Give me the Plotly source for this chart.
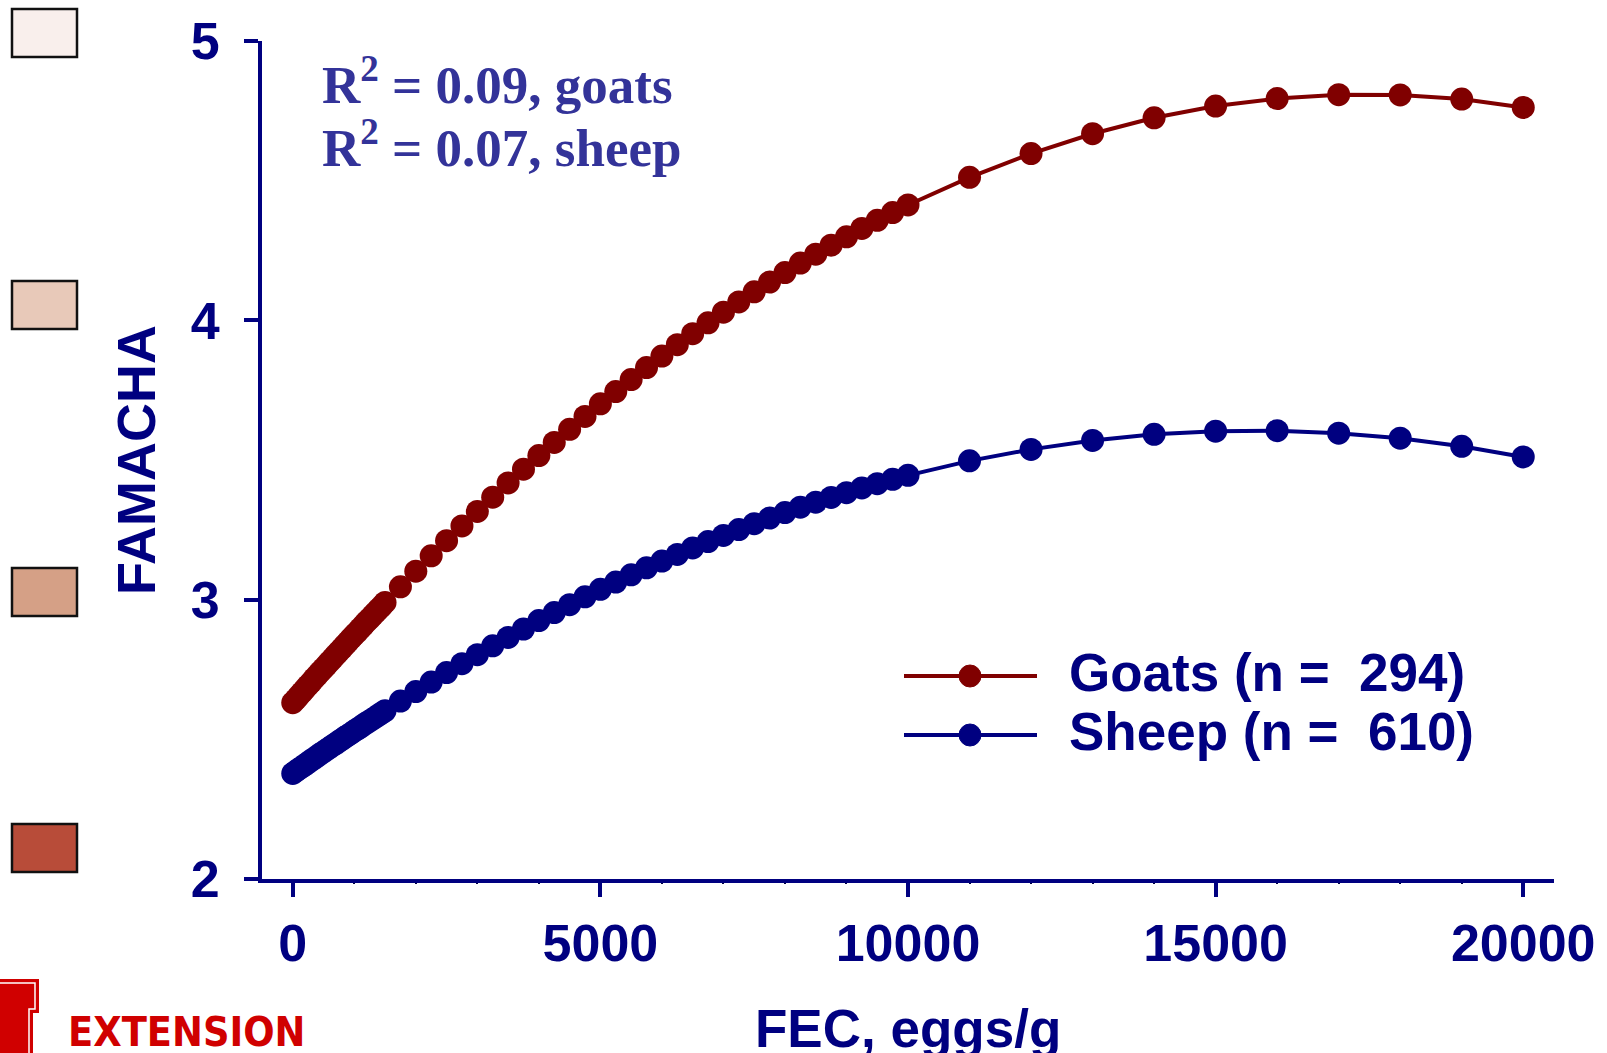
import plotly.graph_objects as go

# ---------------- data ----------------
goats_x = [0, 50, 100, 150, 200, 250, 300, 350, 400, 450, 500, 550, 600, 650, 700, 750, 800,
           850, 900, 950, 1000, 1050, 1100, 1150, 1200, 1250, 1300, 1350, 1400, 1450, 1500,
           1750, 2000, 2250, 2500, 2750, 3000, 3250, 3500, 3750, 4000, 4250, 4500, 4750, 5000,
           5250, 5500, 5750, 6000, 6250, 6500, 6750, 7000, 7250, 7500, 7750, 8000, 8250, 8500,
           8750, 9000, 9250, 9500, 9750, 10000,
           11000, 12000, 13000, 14000, 15000, 16000, 17000, 18000, 19000, 20000]
goats_y = [2.631, 2.643, 2.656, 2.668, 2.681, 2.693, 2.705, 2.718, 2.730, 2.742, 2.754, 2.766,
           2.778, 2.790, 2.802, 2.814, 2.826, 2.838, 2.850, 2.862, 2.874, 2.885, 2.897, 2.909,
           2.921, 2.932, 2.944, 2.955, 2.967, 2.978, 2.990,
           3.046, 3.102, 3.157, 3.211, 3.264, 3.316, 3.367, 3.418, 3.467, 3.516, 3.563, 3.610,
           3.656, 3.701, 3.745, 3.788, 3.831, 3.872, 3.913, 3.952, 3.991, 4.029, 4.066, 4.102,
           4.137, 4.171, 4.205, 4.237, 4.269, 4.299, 4.329, 4.358, 4.386, 4.413,
           4.512, 4.597, 4.668, 4.725, 4.767, 4.794, 4.808, 4.807, 4.792, 4.762]

sheep_x = list(goats_x)
sheep_y = [2.378, 2.386, 2.394, 2.401, 2.409, 2.417, 2.425, 2.432, 2.440, 2.448, 2.455, 2.463,
           2.470, 2.478, 2.485, 2.493, 2.500, 2.508, 2.515, 2.522, 2.530, 2.537, 2.544, 2.552,
           2.559, 2.566, 2.573, 2.580, 2.588, 2.595, 2.602,
           2.637, 2.671, 2.705, 2.739, 2.771, 2.803, 2.835, 2.865, 2.895, 2.925, 2.954, 2.982,
           3.010, 3.037, 3.063, 3.089, 3.114, 3.138, 3.162, 3.185, 3.208, 3.230, 3.251, 3.272,
           3.292, 3.312, 3.331, 3.349, 3.366, 3.383, 3.400, 3.415, 3.431, 3.445,
           3.497, 3.538, 3.570, 3.592, 3.603, 3.605, 3.596, 3.578, 3.549, 3.511]

series_names = ["Goats (n =\u00a0\u00a0294)", "Sheep (n =\u00a0\u00a0610)"]
r2_lines = ["R<sup>2</sup> = 0.09, goats", "R<sup>2</sup> = 0.07, sheep"]
x_ticks = [0, 5000, 10000, 15000, 20000]
x_ticktext = ["0", "5000", "10000", "15000", "20000"]
y_ticks = [2, 3, 4, 5]
famacha_colors = ["#F9EFEC", "#E8C9B9", "#D5A086", "#B84C39"]

GOAT_C = "#800000"
SHEEP_C = "#000080"
NAVY = "#000080"
R2_C = "#333399"
SANS = "Arial, 'Liberation Sans', sans-serif"
SERIF = "'Times New Roman', 'Liberation Serif', serif"

# ---------------- layout geometry (pixels) ----------------
W, H = 1607, 1053
ML, MR, MT, MB = 262, 53, 41, 174
PW, PH = W - ML - MR, H - MT - MB


def px(xp):
    return (xp - ML) / PW


def py(yp):
    return (H - MB - yp) / PH


fig = go.Figure()
fig.add_trace(go.Scatter(x=goats_x, y=goats_y, mode="lines+markers", name=series_names[0],
                         line=dict(color=GOAT_C, width=4),
                         marker=dict(color=GOAT_C, size=23), showlegend=False))
fig.add_trace(go.Scatter(x=sheep_x, y=sheep_y, mode="lines+markers", name=series_names[1],
                         line=dict(color=SHEEP_C, width=4),
                         marker=dict(color=SHEEP_C, size=23), showlegend=False))

fig.update_layout(
    width=W, height=H,
    margin=dict(l=ML, r=MR, t=MT, b=MB, pad=0),
    paper_bgcolor="white", plot_bgcolor="white",
    showlegend=False,
    xaxis=dict(range=[-500, 20500], tickvals=x_ticks, ticktext=x_ticktext, ticks="outside",
               ticklen=14, tickwidth=4,
               tickcolor=NAVY, showline=True, linewidth=4, linecolor=NAVY, showgrid=False,
               zeroline=False, ticklabelstandoff=2,
               tickfont=dict(family=SANS, size=52, color=NAVY, weight="bold"),
               minor=dict(dtick=1000, ticks="outside", ticklen=1, tickwidth=2, tickcolor="#000040")),
    yaxis=dict(range=[2, 5], tickvals=y_ticks, ticks="outside", ticklen=14, tickwidth=4,
               tickcolor=NAVY, showline=True, linewidth=4, linecolor=NAVY, showgrid=False,
               zeroline=False, ticklabelstandoff=14,
               tickfont=dict(family=SANS, size=52, color=NAVY, weight="bold")),
)

annotations = []
# axis titles
annotations.append(dict(text="FEC, eggs/g", xref="paper", yref="paper", x=0.5, y=py(1028),
                         xanchor="center", yanchor="middle", showarrow=False,
                         font=dict(family=SANS, size=53, color=NAVY, weight="bold")))
annotations.append(dict(text="FAMACHA", xref="paper", yref="paper", x=px(136), y=0.5,
                         xanchor="center", yanchor="middle", textangle=-90, showarrow=False,
                         font=dict(family=SANS, size=54, color=NAVY, weight="bold")))
# R^2 text
for i, t in enumerate(r2_lines):
    annotations.append(dict(text=t, xref="paper", yref="paper", x=px(320), y=py(81 + 63 * i),
                             xanchor="left", yanchor="middle", showarrow=False,
                             font=dict(family=SERIF, size=53, color=R2_C, weight="bold")))

shapes = []
# custom legend
for i, (nm, c) in enumerate(zip(series_names, [GOAT_C, SHEEP_C])):
    yy = 676 + 59 * i
    shapes.append(dict(type="line", xref="paper", yref="paper", x0=px(904), x1=px(1037),
                       y0=py(yy), y1=py(yy), line=dict(color=c, width=4)))
    shapes.append(dict(type="circle", xref="paper", yref="paper", x0=px(959), x1=px(981),
                       y0=py(yy + 11), y1=py(yy - 11), fillcolor=c, line=dict(color=c, width=1)))
    annotations.append(dict(text=nm, xref="paper", yref="paper", x=px(1067), y=py(yy - 4),
                             xanchor="left", yanchor="middle", showarrow=False,
                             font=dict(family=SANS, size=53, color=NAVY, weight="bold")))

# FAMACHA colour card squares
sq_tops = [9, 281, 568, 824]
for top, col in zip(sq_tops, famacha_colors):
    shapes.append(dict(type="rect", xref="paper", yref="paper", x0=px(12), x1=px(77),
                       y0=py(top + 48), y1=py(top), fillcolor=col,
                       line=dict(color="#111111", width=2.5)))

# Extension logo (partial)
pts = [(0, 979), (39, 979), (39, 1013), (33, 1013), (33, 1060), (0, 1060)]
path = "M " + " L ".join(f"{px(a):.5f},{py(b):.5f}" for a, b in pts) + " Z"
shapes.append(dict(type="path", xref="paper", yref="paper", path=path,
                   fillcolor="#D00000", line=dict(width=0)))
pts2 = [(0, 983), (35, 983), (35, 1009), (29, 1009), (29, 1060)]
path2 = "M " + " L ".join(f"{px(a):.5f},{py(b):.5f}" for a, b in pts2)
shapes.append(dict(type="path", xref="paper", yref="paper", path=path2,
                   line=dict(color="white", width=1.5)))
annotations.append(dict(text="EXTENSION", xref="paper", yref="paper", x=px(66), y=py(1006),
                         xanchor="left", yanchor="top", showarrow=False,
                         font=dict(family="'Liberation Sans Narrow', 'DejaVu Sans Condensed', Arial, sans-serif",
                                   size=41, color="#D00000", weight="bold")))

fig.update_layout(annotations=annotations, shapes=shapes)

fig.write_html("out.html", config={"displayModeBar": False},
               post_script="document.body.style.margin='0';document.body.style.overflow='hidden';")
